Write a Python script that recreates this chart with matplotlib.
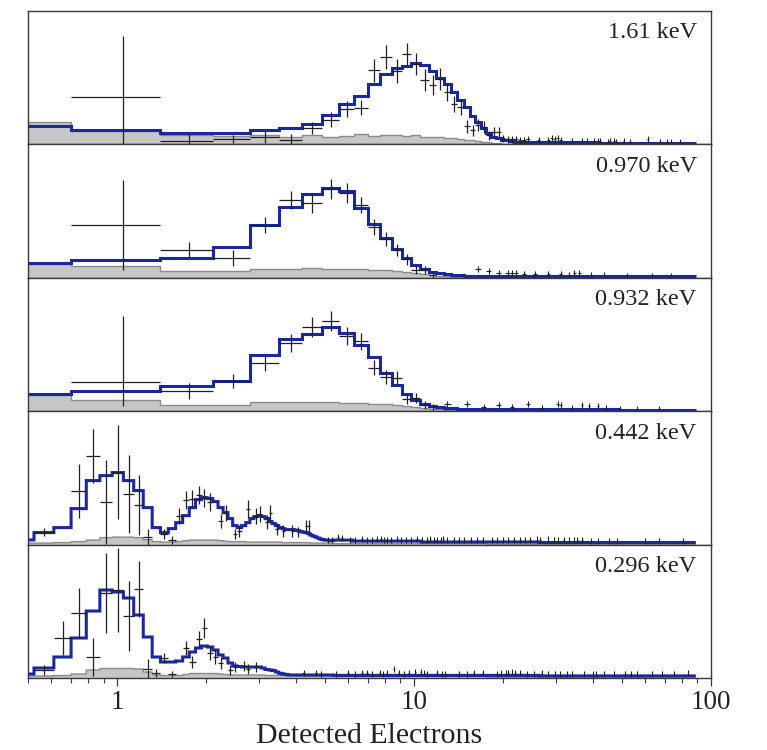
import numpy as np
import matplotlib
matplotlib.use("Agg")
import matplotlib.pyplot as plt
from matplotlib.ticker import FixedLocator, FixedFormatter, LogLocator, NullFormatter

plt.rcParams['font.family'] = ['Liberation Serif', 'DejaVu Serif']

# ---------------- data (heights in counts per bin) ----------------
LABELS = ["1.61 keV", "0.970 keV", "0.932 keV", "0.442 keV", "0.296 keV"]

WIDE_BIN = 0.7      # bin width (electrons) of the three upper spectra
FINE_BIN = 0.0875   # bin width (electrons) of the two lower spectra

# ---- 1.61 keV ----
P1_MODEL = [18, 14, 11, 11, 14.5, 16.5, 20, 29, 40, 48, 60, 70, 76, 78, 81, 79, 73, 66, 60,
            52, 44, 37, 28, 22, 16, 11, 7.5, 6, 4.7, 4, 3.5]
P1_MODEL_TAIL = [(40, 2.8), (60, 2.3), (90, 1.9), (127, 1.5)]
P1_BG = [22, 13.5, 9, 8, 9.5, 7, 9, 7.5, 8, 10, 8.5, 9, 9, 8.5, 9, 7.5, 7.5, 7, 6.5, 6, 5.5,
         4.5, 4, 3.5, 2.5, 2, 1.5, 1, 0.8, 0.6, 0.5]
P1_BG_TAIL = [(60, 0.4), (127, 0.25)]
P1_DATA = [47, 3.3, 5, 7.5, 4.5, 16.3, 24.7, 35.5, 36.7, 74, 87.3, 73, 90, 80.7, 64, 59, 65,
           52, 40, 37, 18, 14, 19, 17.3, 9, 12.3, 12.3, 6, 5, 5]
P1_ERR = [0, 7, 4, 6, 6, 6, 7.5, 8, 7.5, 11.5, 12, 12, 11, 11, 11, 10, 11, 9, 8, 8, 6.5,
          5.5, 6, 6, 4.5, 5, 5, 3.5, 3.5, 3.5]
P1_FIRST_ERR = (47, 61)
P1_TAIL_BINS = [31, 32, 33, 34, 37, 40, 41, 42, 43, 44, 48, 52, 54, 57, 59, 60, 64, 65, 67,
                68, 72, 76, 87, 96, 101, 104, 112]
P1_TAIL_H = [5, 4.5, 4, 5, 4, 4.5, 6, 5, 6, 4, 3, 3.5, 3, 3, 3, 3, 2.5, 3, 3, 2.5, 3, 2.5,
             5, 2.5, 2.5, 2.5, 2]

# ---- 0.970 keV ----
P2_MODEL = [15, 18, 20, 31, 53, 70.5, 84, 89.5, 86.5, 70, 54, 40, 29, 20, 13, 8.5, 6, 4.5,
            3.5, 3, 2.5]
P2_MODEL_TAIL = [(40, 2.2), (70, 1.9), (127, 1.5)]
P2_BG = [13.5, 11.5, 6.5, 6.5, 9, 9, 9.5, 9, 8.5, 8.5, 7.5, 7.5, 7, 6, 5, 4, 3, 2, 1.5, 1, 0.8]
P2_BG_TAIL = [(40, 0.5), (127, 0.25)]
P2_DATA = [52.5, 28.2, 20.2, 52.5, 78, 75, 89, 85, 72.5, 51, 38.5, 27.5, 18.5, 8, 8, 2.5]
P2_ERR = [0, 7.5, 8, 8, 9, 10, 10, 10, 8, 8, 7, 6, 5.5, 4, 4, 2.5]
P2_FIRST_ERR = (45, 45)
P2_TAIL_BINS = [23, 25, 27, 29, 30, 31, 33, 36, 40, 44, 47, 49, 51, 56, 62, 74, 90, 104]
P2_TAIL_H = [9, 6.5, 5, 4.5, 5, 5, 3.5, 4, 3.5, 3.5, 3, 5, 4.5, 3, 2.5, 2, 2, 2]

# ---- 0.932 keV ----
P3_MODEL = [17, 20, 25, 30, 56.5, 72, 77, 84, 78, 66, 54, 38, 26, 17, 11, 7, 5.3, 4.5, 3.5, 3, 2.5]
P3_MODEL_TAIL = [(40, 2.2), (70, 1.9), (127, 1.5)]
P3_BG = [16, 11, 6, 6, 9.5, 9.5, 9.5, 9, 8.5, 8, 7.5, 7, 6, 5, 4, 3, 2.5, 2, 1.5, 1, 0.8]
P3_BG_TAIL = [(40, 0.5), (127, 0.25)]
P3_DATA = [29, 20, 30, 48.7, 68.7, 84.3, 90, 75.3, 70, 43.3, 34.3, 33, 12.7, 13, 6, 4]
P3_ERR = [0, 8, 7, 8, 9, 10, 10, 9, 8.5, 7.5, 7, 7, 5, 5, 4, 3]
P3_FIRST_ERR = (24, 66)
P3_TAIL_BINS = [18, 21, 24, 27, 30, 34, 38, 43, 44, 48, 52, 55, 59, 63, 70, 80, 95]
P3_TAIL_H = [7.7, 7.7, 4, 6, 4, 7, 3.5, 7, 6.5, 3.5, 6, 5, 5, 3, 2.5, 2.5, 2]

# ---- 0.442 keV (fine bins, starting at bin 5) ----
P4_MODEL = [4.7, 12, 17, 36, 64, 69, 72, 64, 54, 37, 17, 12, 16, 22, 29, 37, 45, 47, 46, 43,
            37, 32, 26, 19, 17, 19, 22, 26, 28, 29, 28, 26, 23, 21, 19, 17, 16, 15, 15, 15,
            14.5, 14, 13, 12.5, 12, 11, 9.5, 8.5, 7.5, 6.5, 5.5, 5, 4.5, 4.5, 4, 4]
P4_MODEL_TAIL = [(71, 4.5), (121, 3.5), (301, 2.6), (1016, 2.1)]
P4_BG = [1.5, 1.5, 2, 3, 4.5, 7, 7.5, 7.5, 7, 5, 3, 2.5, 2.5, 3, 4, 4.5, 4.5, 4.5, 4.5, 4.5,
         4, 3.5, 3, 3, 3, 3, 2.5, 2.5, 2.5, 2.5, 2.5, 2.5, 2.5, 2.5, 2.5, 2.5, 2, 2, 2, 2,
         2, 2, 2, 2, 2, 2, 1.5, 1.5, 1.5, 1.5, 1.5, 1.5, 1.5, 1.5, 1.5, 1.5]
P4_BG_TAIL = [(201, 1.0), (1016, 0.5)]
P4_DATA_BINS = [6, 8, 9, 10, 11, 12, 13, 14, 16, 17, 18, 19, 20, 21, 22, 23, 25, 26, 28, 29,
                31, 33, 34, 36, 37, 39, 41, 44, 46, 49, 50]
P4_DATA = [13, 54, 89, 43, 73, 51, 40, 8, 11, 4.7, 29, 44.7, 46, 50, 47, 43, 24, 32, 10.7, 14,
           35.7, 29, 30.7, 22.3, 32, 15.7, 14, 14, 12.3, 19, 19]
P4_ERR = [4, 27, 27, 42, 47, 39, 30, 8, 5, 4, 8, 9, 9, 9, 9, 9, 7, 8, 5, 6, 9, 8, 8, 7, 8, 6,
          6, 6, 5, 6, 6]
P4_TAIL_BINS = [58, 60, 63, 65, 69, 72, 76, 79, 82, 85, 88, 90, 92, 95, 100, 103, 107, 111,
                116, 121, 126, 129, 133, 136, 140, 143, 147, 155, 161, 168, 177, 186, 194,
                209, 217, 228, 237, 247, 260, 270, 281, 296, 304, 323, 337, 349, 364, 379,
                395, 405, 421, 451, 475, 517, 552, 686, 762, 916]
P4_TAIL_H = [5, 5, 8, 7, 4.5, 5, 5.5, 5, 5, 6, 5.5, 5, 5, 4.5, 6, 4.5, 5, 4.5, 6, 5, 4.5,
             5.5, 5, 4.5, 5, 5.5, 4.5, 5, 4.5, 5, 4.5, 5, 4.5, 4.5, 4.5, 5, 4.5, 4.5, 5, 4.5,
             5, 5.5, 5, 5.5, 4.5, 5, 5, 4.5, 4.5, 4.5, 4.5, 4, 4, 4, 4, 4, 4, 4]

# ---- 0.296 keV (fine bins, starting at bin 5) ----
P5_MODEL = [4, 10, 21, 40, 67, 88, 86, 80, 63, 41, 21, 16, 16, 17, 21, 26, 30, 32, 31, 28,
            23, 20, 15, 12, 11.5, 11, 11, 11, 11, 11, 10, 8.5, 8, 7.5, 6, 4.7, 4, 3.5, 3, 3,
            3, 3, 3, 3, 3, 3, 3, 3, 3, 3, 3, 3, 3, 3, 3, 3]
P5_MODEL_TAIL = [(301, 2.6), (1016, 2.1)]
P5_BG = [2, 2, 2.5, 4, 8, 9.5, 9.5, 9.5, 9, 6, 3, 2.5, 2.5, 2.5, 3.5, 4.5, 4.5, 4.5, 4.5, 4.5,
         4, 3.5, 3, 3, 3, 3, 3, 3, 3, 3, 3, 2.5, 2.5, 2.5, 2.5, 2.5, 2.5, 2.5, 2.5, 2.5,
         2.5, 2, 2, 2, 2, 2, 2, 2, 2, 2, 2, 2, 2, 2, 2, 2]
P5_BG_TAIL = [(201, 1.5), (1016, 0.8)]
P5_DATA_BINS = [6, 7, 8, 9, 10, 11, 12, 13, 14, 15, 16, 17, 19, 20, 21, 22, 23, 24, 25, 27,
                28, 30, 31, 33]
P5_DATA = [8, 39.7, 64.7, 21, 85.3, 88, 62, 89, 8.7, 5.3, 19.7, 4, 29.7, 16.3, 38.7, 49.7,
           24.7, 21.3, 14.7, 8, 11, 12, 9, 11]
P5_ERR = [5, 17, 25, 19, 40, 42, 35, 28, 10, 4, 5, 3, 7, 6, 8, 10, 7, 7, 6, 5, 5, 5, 5, 5]
P5_TAIL_BINS = [48, 53, 55, 62, 68, 72, 76, 79, 82, 87, 89, 92, 97, 101, 105, 109, 115, 120,
                123, 126, 136, 141, 145, 161, 172, 181, 194, 217, 224, 233, 237, 244, 250,
                260, 274, 289, 307, 323, 341, 354, 373, 389, 427, 456, 468, 498, 537, 588,
                612, 643, 723, 779, 857, 957]
P5_TAIL_H = [5, 5, 4.5, 4.5, 5, 4.5, 5, 5.5, 4.5, 5, 4.5, 5, 9, 5, 4.5, 5, 6, 6, 5, 4.5, 5,
             4.5, 4.5, 4.5, 4.5, 5, 5, 4.5, 5, 5.5, 5, 6, 5.5, 5, 4.5, 4.5, 5, 4.5, 4.5, 4.5,
             4.5, 4.5, 4, 4, 4, 4, 4, 4, 4, 4, 4, 4, 4, 5]
TAIL_ERR = 3.0

# ---------------- helpers ----------------
def expand(main, start_bin, tail):
    """Append piecewise-constant tail levels (end_bin, level) to the main bin values."""
    vals = list(main)
    cur = start_bin + len(main)
    for end_bin, level in tail:
        vals += [level] * (end_bin - cur)
        cur = end_bin
    return np.array(vals, dtype=float)


BLUE = '#1a28a0'
FILL = '#c6c6c6'
FILL_EDGE = '#8a8a8a'
DATA_C = '#202020'

fig = plt.figure(figsize=(7.67, 7.5), dpi=100)
left, right = 27.7 / 767, 711 / 767
top, bottom = 1 - 11 / 750, 1 - 678 / 750
gs = fig.add_gridspec(5, 1, left=left, right=right, top=top, bottom=bottom, hspace=0)
axes = [fig.add_subplot(gs[i, 0]) for i in range(5)]

wide_panels = [
    (P1_MODEL, P1_MODEL_TAIL, P1_BG, P1_BG_TAIL, P1_DATA, P1_ERR, P1_FIRST_ERR, P1_TAIL_BINS, P1_TAIL_H),
    (P2_MODEL, P2_MODEL_TAIL, P2_BG, P2_BG_TAIL, P2_DATA, P2_ERR, P2_FIRST_ERR, P2_TAIL_BINS, P2_TAIL_H),
    (P3_MODEL, P3_MODEL_TAIL, P3_BG, P3_BG_TAIL, P3_DATA, P3_ERR, P3_FIRST_ERR, P3_TAIL_BINS, P3_TAIL_H),
]
fine_panels = [
    (P4_MODEL, P4_MODEL_TAIL, P4_BG, P4_BG_TAIL, P4_DATA_BINS, P4_DATA, P4_ERR, P4_TAIL_BINS, P4_TAIL_H),
    (P5_MODEL, P5_MODEL_TAIL, P5_BG, P5_BG_TAIL, P5_DATA_BINS, P5_DATA, P5_ERR, P5_TAIL_BINS, P5_TAIL_H),
]

def draw_common(ax, model, bg, start_bin, width):
    edges_m = (start_bin + np.arange(len(model) + 1)) * width
    edges_b = (start_bin + np.arange(len(bg) + 1)) * width
    ax.stairs(bg, edges_b, fill=True, color=FILL, zorder=1, baseline=0)
    ax.stairs(bg, edges_b, color=FILL_EDGE, lw=1.0, zorder=1.5, baseline=None)
    ax.stairs(model, edges_m, color=BLUE, lw=2.2, zorder=3, baseline=None)

for ax, (model, mtail, bg, btail, data, err, ferr, tbins, th) in zip(axes[:3], wide_panels):
    m = expand(model, 0, mtail)
    b = expand(bg, 0, btail)
    draw_common(ax, m, b, 0, WIDE_BIN)
    bins = np.arange(1, 1 + len(data))
    x = (bins + 0.5) * WIDE_BIN
    lo = np.array(err, dtype=float)
    hi = np.array(err, dtype=float)
    lo[0], hi[0] = ferr
    ax.errorbar(x, data, xerr=WIDE_BIN / 2, yerr=[lo, hi], fmt='none', ecolor=DATA_C,
                elinewidth=0.9, capsize=0, zorder=4)
    tx = (np.array(tbins) + 0.5) * WIDE_BIN
    ax.errorbar(tx, th, xerr=WIDE_BIN / 2, yerr=TAIL_ERR, fmt='none', ecolor=DATA_C,
                elinewidth=0.8, capsize=0, zorder=4)

for ax, (model, mtail, bg, btail, dbins, data, err, tbins, th) in zip(axes[3:], fine_panels):
    m = expand(model, 5, mtail)
    b = expand(bg, 5, btail)
    draw_common(ax, m, b, 5, FINE_BIN)
    x = (np.array(dbins) + 0.5) * FINE_BIN
    ax.errorbar(x, data, xerr=FINE_BIN / 2, yerr=err, fmt='none', ecolor=DATA_C,
                elinewidth=0.9, capsize=0, zorder=4)
    tx = (np.array(tbins) + 0.5) * FINE_BIN
    ax.errorbar(tx, th, xerr=FINE_BIN / 2, yerr=TAIL_ERR, fmt='none', ecolor=DATA_C,
                elinewidth=0.8, capsize=0, zorder=4)

for i, ax in enumerate(axes):
    ax.set_xscale('log')
    ax.set_xlim(0.5, 100)
    ax.set_ylim(0, 133.4)
    ax.set_yticks([])
    for s in ax.spines.values():
        s.set_color('#3a3a3a')
        s.set_linewidth(1.0)
    ax.text(0.979, 0.915, LABELS[i], transform=ax.transAxes, ha='right', va='top',
            fontsize=17.5, color='#222222')
    if i < 4:
        ax.tick_params(axis='x', which='both', bottom=False, top=False,
                       labelbottom=False)
        ax.xaxis.set_minor_formatter(NullFormatter())

bax = axes[-1]
bax.xaxis.set_major_locator(FixedLocator([1, 10, 100]))
bax.xaxis.set_major_formatter(FixedFormatter(['1', '10', '100']))
bax.xaxis.set_minor_locator(LogLocator(base=10, subs=np.arange(2, 10)))
bax.xaxis.set_minor_formatter(NullFormatter())
bax.tick_params(axis='x', which='major', direction='out', length=6, width=0.9,
                color='#3a3a3a', labelsize=19.5, pad=2.5, labelcolor='#222222')
bax.tick_params(axis='x', which='minor', direction='out', length=3.5, width=0.8,
                color='#3a3a3a')
bax.set_xlabel('Detected Electrons', fontsize=21.5, color='#222222')
bax.xaxis.label.set_va('baseline')
bax.xaxis.set_label_coords(0.5, -0.491)

fig.savefig('out.png', dpi=100)
